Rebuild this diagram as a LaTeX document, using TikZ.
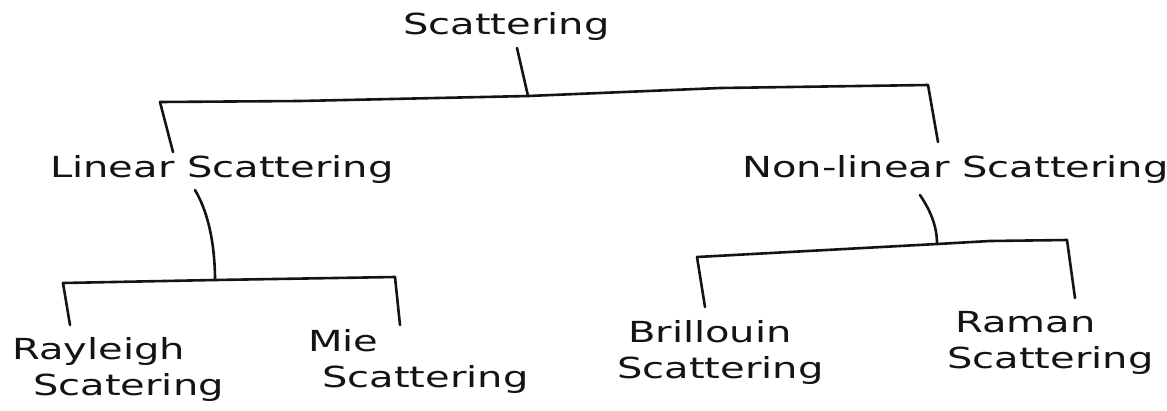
\documentclass[tikz,border=0pt]{standalone}
\usepackage{fontspec}
\newfontfamily\hand[FakeStretch=1.38]{DejaVu Sans}
\begin{document}
\begin{tikzpicture}[x=1pt,y=-1pt,
  label/.style={inner sep=0pt, anchor=base west, align=left,
    font=\hand\fontsize{29}{36}\selectfont, text=ink},
  branch/.style={draw=ink, line width=2.6pt, line cap=round, line join=round}]
\definecolor{ink}{HTML}{141414}
\fill[white] (0,0) rectangle (1167,410);
\useasboundingbox (0,0) rectangle (1167,410);

% labels, placed by the baseline of their last line
\node[label] (root) at (403,34) {Scattering};
\node[label] (lin)  at (50,177) {Linear Scattering};
\node[label] (non)  at (742,177) {Non-linear Scattering};
\node[label] (ray)  at (12,395) {Rayleigh\\\hspace*{21pt}Scatering};
\node[label] (mie)  at (308,387) {Mie\\\hspace*{14pt}Scattering};
\node[label] (bri)  at (617,378) {\hspace*{11pt}Brillouin\\Scattering};
\node[label] (ram)  at (947,368) {\hspace*{8pt}Raman\\Scattering};

% junction points of the brackets
\coordinate (aL) at (160,102);
\coordinate (aM) at (528,96);
\coordinate (aR) at (928,85);
\coordinate (bL) at (63,283);
\coordinate (bM) at (215,280);
\coordinate (bR) at (395,277);
\coordinate (cL) at (697,257);
\coordinate (cM) at (937,244);
\coordinate (cR) at (1067,240);

% first level
\draw[branch] ([shift={(114,14)}]root.base west) -- (aM);
\draw[branch] (aL) -- (300,101) -- (aM) -- (720,88) -- (aR);
\draw[branch] (aL) -- ([shift={(123,-25)}]lin.base west);
\draw[branch] (aR) -- ([shift={(196,-35)}]non.base west);

% linear branch
\draw[branch] ([shift={(145,13)}]lin.base west)
  .. controls (210,215) and (215,250) .. (bM);
\draw[branch] (bL) -- (bM) -- (bR);
\draw[branch] (bL) -- ([shift={(58,-70)}]ray.base west);
\draw[branch] (bR) -- ([shift={(92,-62)}]mie.base west);

% non-linear branch
\draw[branch] ([shift={(178,18)}]non.base west)
  .. controls (932,213) and (937,228) .. (cM);
\draw[branch] (cL) -- (cM) -- (990,241) -- (cR);
\draw[branch] (cL) -- ([shift={(88,-71)}]bri.base west);
\draw[branch] (cR) -- ([shift={(128,-70)}]ram.base west);
\end{tikzpicture}
\end{document}
